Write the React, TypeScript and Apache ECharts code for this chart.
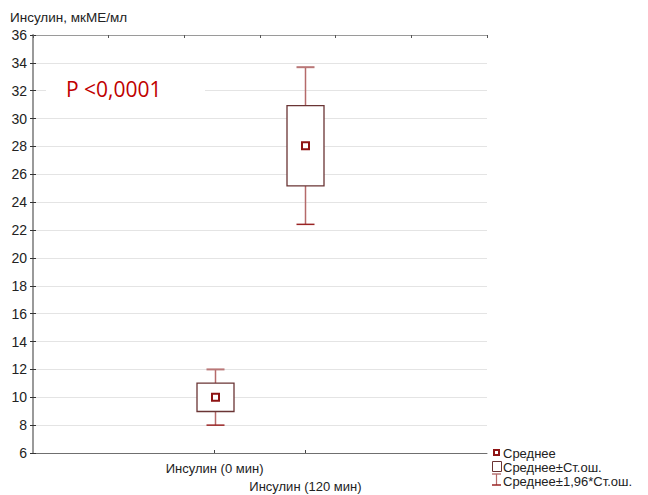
import React, { useEffect, useRef } from "react";
import * as echarts from "echarts";

const yTitle = "Инсулин, мкМЕ/мл";
const categories = ["Инсулин (0 мин)", "Инсулин (120 мин)"];
const xPositions = [2, 3];
const means = [10.0, 28.05];
const seLow = [8.98, 25.17];
const seHigh = [11.02, 30.93];
const ciLow = [8.0, 22.41];
const ciHigh = [12.0, 33.69];
const legendLabels = ["Среднее", "Среднее±Ст.ош.", "Среднее±1,96*Ст.ош."];
const pText = "P <0,0001";

const FONT = "'Liberation Sans', Arial, sans-serif";

function labelAxis(index: number, margin: number) {
  return {
    type: "value",
    min: 0,
    max: 5,
    interval: 1,
    position: "bottom",
    axisLine: { show: false },
    axisTick: { show: false },
    axisLabel: {
      show: true,
      customValues: [xPositions[index]],
      hideOverlap: false,
      margin,
      fontSize: 13,
      color: "#222",
      fontFamily: FONT,
      formatter: (v: number) => {
        const i = xPositions.indexOf(v);
        return i < 0 ? "" : categories[i];
      },
    },
    splitLine: { show: false },
  };
}

export default function App() {
  const ref = useRef<HTMLDivElement>(null);
  useEffect(() => {
    if (!ref.current) return;
    const chart = echarts.init(ref.current, undefined, { renderer: "svg" });
    const data = xPositions.map((x, i) => [x, means[i], seLow[i], seHigh[i], ciLow[i], ciHigh[i]]);
    const option: any = {
      animation: false,
      backgroundColor: "#fff",
      textStyle: { fontFamily: FONT },
      grid: { left: 33, right: 161, top: 35, bottom: 42 },
      xAxis: [
        {
          type: "value",
          min: 0,
          max: 5,
          interval: 1,
          position: "bottom",
          axisLine: { show: true, lineStyle: { color: "#6f6f6f", width: 1 } },
          axisTick: { show: true, inside: true, length: 3, customValues: xPositions, lineStyle: { color: "#444" } },
          axisLabel: { show: false },
          splitLine: { show: false },
        },
        {
          type: "value",
          min: 0,
          max: 6,
          interval: 1,
          position: "top",
          axisLine: { show: true, lineStyle: { color: "#9a9a9a", width: 1 } },
          axisTick: { show: true, inside: true, length: 3, lineStyle: { color: "#555" } },
          axisLabel: { show: false },
          splitLine: { show: false },
        },
        labelAxis(0, 9),
        labelAxis(1, 27),
      ],
      yAxis: [
        {
          type: "value",
          min: 6,
          max: 36,
          interval: 2,
          position: "left",
          axisLine: { show: true, lineStyle: { color: "#333", width: 1 } },
          axisTick: { show: true, inside: true, length: 3, lineStyle: { color: "#333" } },
          axisLabel: { fontSize: 14, color: "#222", margin: 6, fontFamily: FONT },
          splitLine: { show: true, lineStyle: { color: "#e4e4e4", width: 1 } },
        },
        {
          type: "value",
          min: 6,
          max: 36,
          interval: 2,
          position: "right",
          axisLine: { show: true, lineStyle: { color: "#9a9a9a", width: 2 } },
          axisTick: { show: true, inside: true, length: 3, lineStyle: { color: "#333" } },
          axisLabel: { show: false },
          splitLine: { show: false },
        },
      ],
      series: [
        {
          type: "custom",
          xAxisIndex: 0,
          yAxisIndex: 0,
          data,
          z: 5,
          renderItem: (params: any, api: any) => {
            const x = api.value(0);
            const pM = api.coord([x, api.value(1)]);
            const pSL = api.coord([x, api.value(2)]);
            const pSH = api.coord([x, api.value(3)]);
            const pCL = api.coord([x, api.value(4)]);
            const pCH = api.coord([x, api.value(5)]);
            const cx = Math.round(pM[0]) + 0.5;
            const bw = 37;
            const cw = 18;
            const ms = 7;
            return {
              type: "group",
              children: [
                { type: "line", shape: { x1: cx, y1: pCH[1], x2: cx, y2: pSH[1] }, style: { stroke: "#b56a6a", lineWidth: 1.5 } },
                { type: "line", shape: { x1: cx, y1: pSL[1], x2: cx, y2: pCL[1] }, style: { stroke: "#b56a6a", lineWidth: 1.5 } },
                { type: "line", shape: { x1: cx - cw / 2, y1: pCH[1], x2: cx + cw / 2, y2: pCH[1] }, style: { stroke: "#b97777", lineWidth: 2 } },
                { type: "line", shape: { x1: cx - cw / 2, y1: pCL[1], x2: cx + cw / 2, y2: pCL[1] }, style: { stroke: "#9a2424", lineWidth: 1.5 } },
                {
                  type: "rect",
                  shape: { x: cx - bw / 2, y: pSH[1], width: bw, height: pSL[1] - pSH[1] },
                  style: { fill: "#fff", stroke: "#6a3434", lineWidth: 1.3 },
                },
                {
                  type: "rect",
                  shape: { x: cx - ms / 2, y: pM[1] - ms / 2, width: ms, height: ms },
                  style: { fill: "#fff", stroke: "#8e1414", lineWidth: 2 },
                },
              ],
            };
          },
        },
      ],
      graphic: [
        { type: "text", left: 10, top: 10, style: { text: yTitle, fontSize: 13.5, fill: "#222", fontFamily: FONT } },
        { type: "rect", z: 3, shape: { x: 46, y: 82, width: 159, height: 16 }, style: { fill: "#fff" } },
        {
          type: "text",
          z: 4,
          x: 66,
          y: 89,
          style: { text: pText, fontSize: 21, fill: "#c00000", fontFamily: "'Open Sans', 'Noto Sans', sans-serif", verticalAlign: "middle" },
        },
        // legend
        { type: "rect", shape: { x: 494, y: 450, width: 5, height: 5 }, style: { fill: "#fff", stroke: "#8e1414", lineWidth: 2 } },
        { type: "text", x: 503, y: 453, style: { text: legendLabels[0], fontSize: 13, fill: "#222", fontFamily: FONT, verticalAlign: "middle" } },
        { type: "rect", shape: { x: 492.5, y: 461.5, width: 9, height: 10 }, style: { fill: "#fff", stroke: "#6a3434", lineWidth: 1 } },
        { type: "text", x: 503, y: 467, style: { text: legendLabels[1], fontSize: 13, fill: "#222", fontFamily: FONT, verticalAlign: "middle" } },
        { type: "line", shape: { x1: 492, y1: 474, x2: 501, y2: 474 }, style: { stroke: "#b97777", lineWidth: 1.5 } },
        { type: "line", shape: { x1: 496.5, y1: 474, x2: 496.5, y2: 485 }, style: { stroke: "#b56a6a", lineWidth: 1.2 } },
        { type: "line", shape: { x1: 492, y1: 485, x2: 501, y2: 485 }, style: { stroke: "#9a2424", lineWidth: 1.5 } },
        { type: "text", x: 503, y: 481, style: { text: legendLabels[2], fontSize: 13, fill: "#222", fontFamily: FONT, verticalAlign: "middle" } },
      ],
    };
    chart.setOption(option);
    return () => chart.dispose();
  }, []);
  return <div ref={ref} style={{ width: 648, height: 495, position: "absolute", left: 0, top: 0 }} />;
}
